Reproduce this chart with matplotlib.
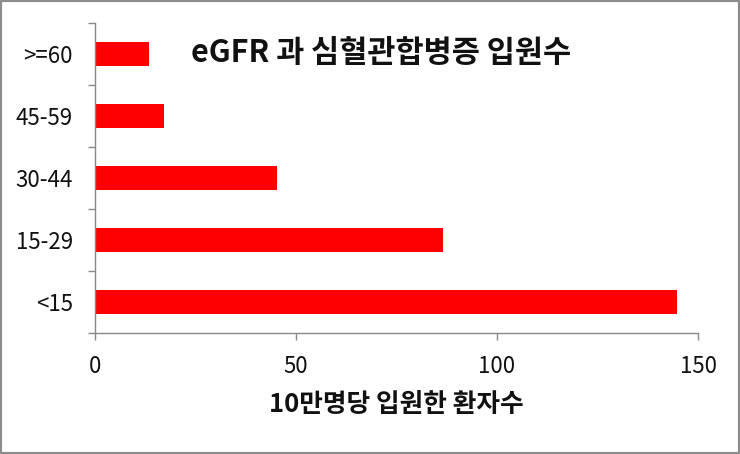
import matplotlib
matplotlib.use("Agg")
import matplotlib.pyplot as plt
from matplotlib.patches import Rectangle
from matplotlib.ticker import FixedLocator

plt.rcParams['font.family'] = ['Noto Sans CJK KR', 'DejaVu Sans']

categories = ["<15", "15-29", "30-44", "45-59", ">=60"]   # bottom to top
values = [144.7, 86.6, 45.3, 17.1, 13.4]
xticks = [0, 50, 100, 150]
title = "eGFR 과 심혈관합병증 입원수"
xlabel = "10만명당 입원한 환자수"

W, H = 740, 454
fig = plt.figure(figsize=(W / 100, H / 100), dpi=100)
ax = fig.add_axes([95 / W, 1 - 333 / H, (698 - 95) / W, (333 - 23) / H])

pos = list(range(len(categories)))
ax.barh(pos, values, height=0.39, color="#FF0000", edgecolor="none")

ax.set_xlim(0, 150)
ax.set_ylim(-0.5, len(categories) - 0.5)
ax.set_xticks(xticks)
ax.set_xticklabels([str(t) for t in xticks])
ax.set_yticks(pos)
ax.set_yticklabels(categories)
ax.yaxis.set_minor_locator(FixedLocator([p - 0.5 for p in pos] + [len(categories) - 0.5]))

spine_c = "#898989"
for s in ["top", "right"]:
    ax.spines[s].set_visible(False)
for s in ["left", "bottom"]:
    ax.spines[s].set_color(spine_c)
    ax.spines[s].set_linewidth(1.0)

ax.tick_params(axis="y", which="major", length=0, pad=16, labelsize=16, labelcolor="#111111")
ax.tick_params(axis="y", which="minor", length=5, width=1, color=spine_c, direction="out")
ax.tick_params(axis="x", which="major", length=5, width=1, color=spine_c, direction="out",
               pad=11, labelsize=16, labelcolor="#111111")

ax.set_xlabel(xlabel, fontsize=18.5, fontweight="bold", labelpad=9, color="#111111")

fig.text(381 / W, 1 - 53 / H, title, fontsize=22, fontweight="bold",
         ha="center", va="center", color="#111111")

fig.patches.append(Rectangle((0, 0), 1, 1, transform=fig.transFigure, fill=False,
                             edgecolor="#8c8c8c", linewidth=3, zorder=10))

fig.savefig("out.png", dpi=100)
